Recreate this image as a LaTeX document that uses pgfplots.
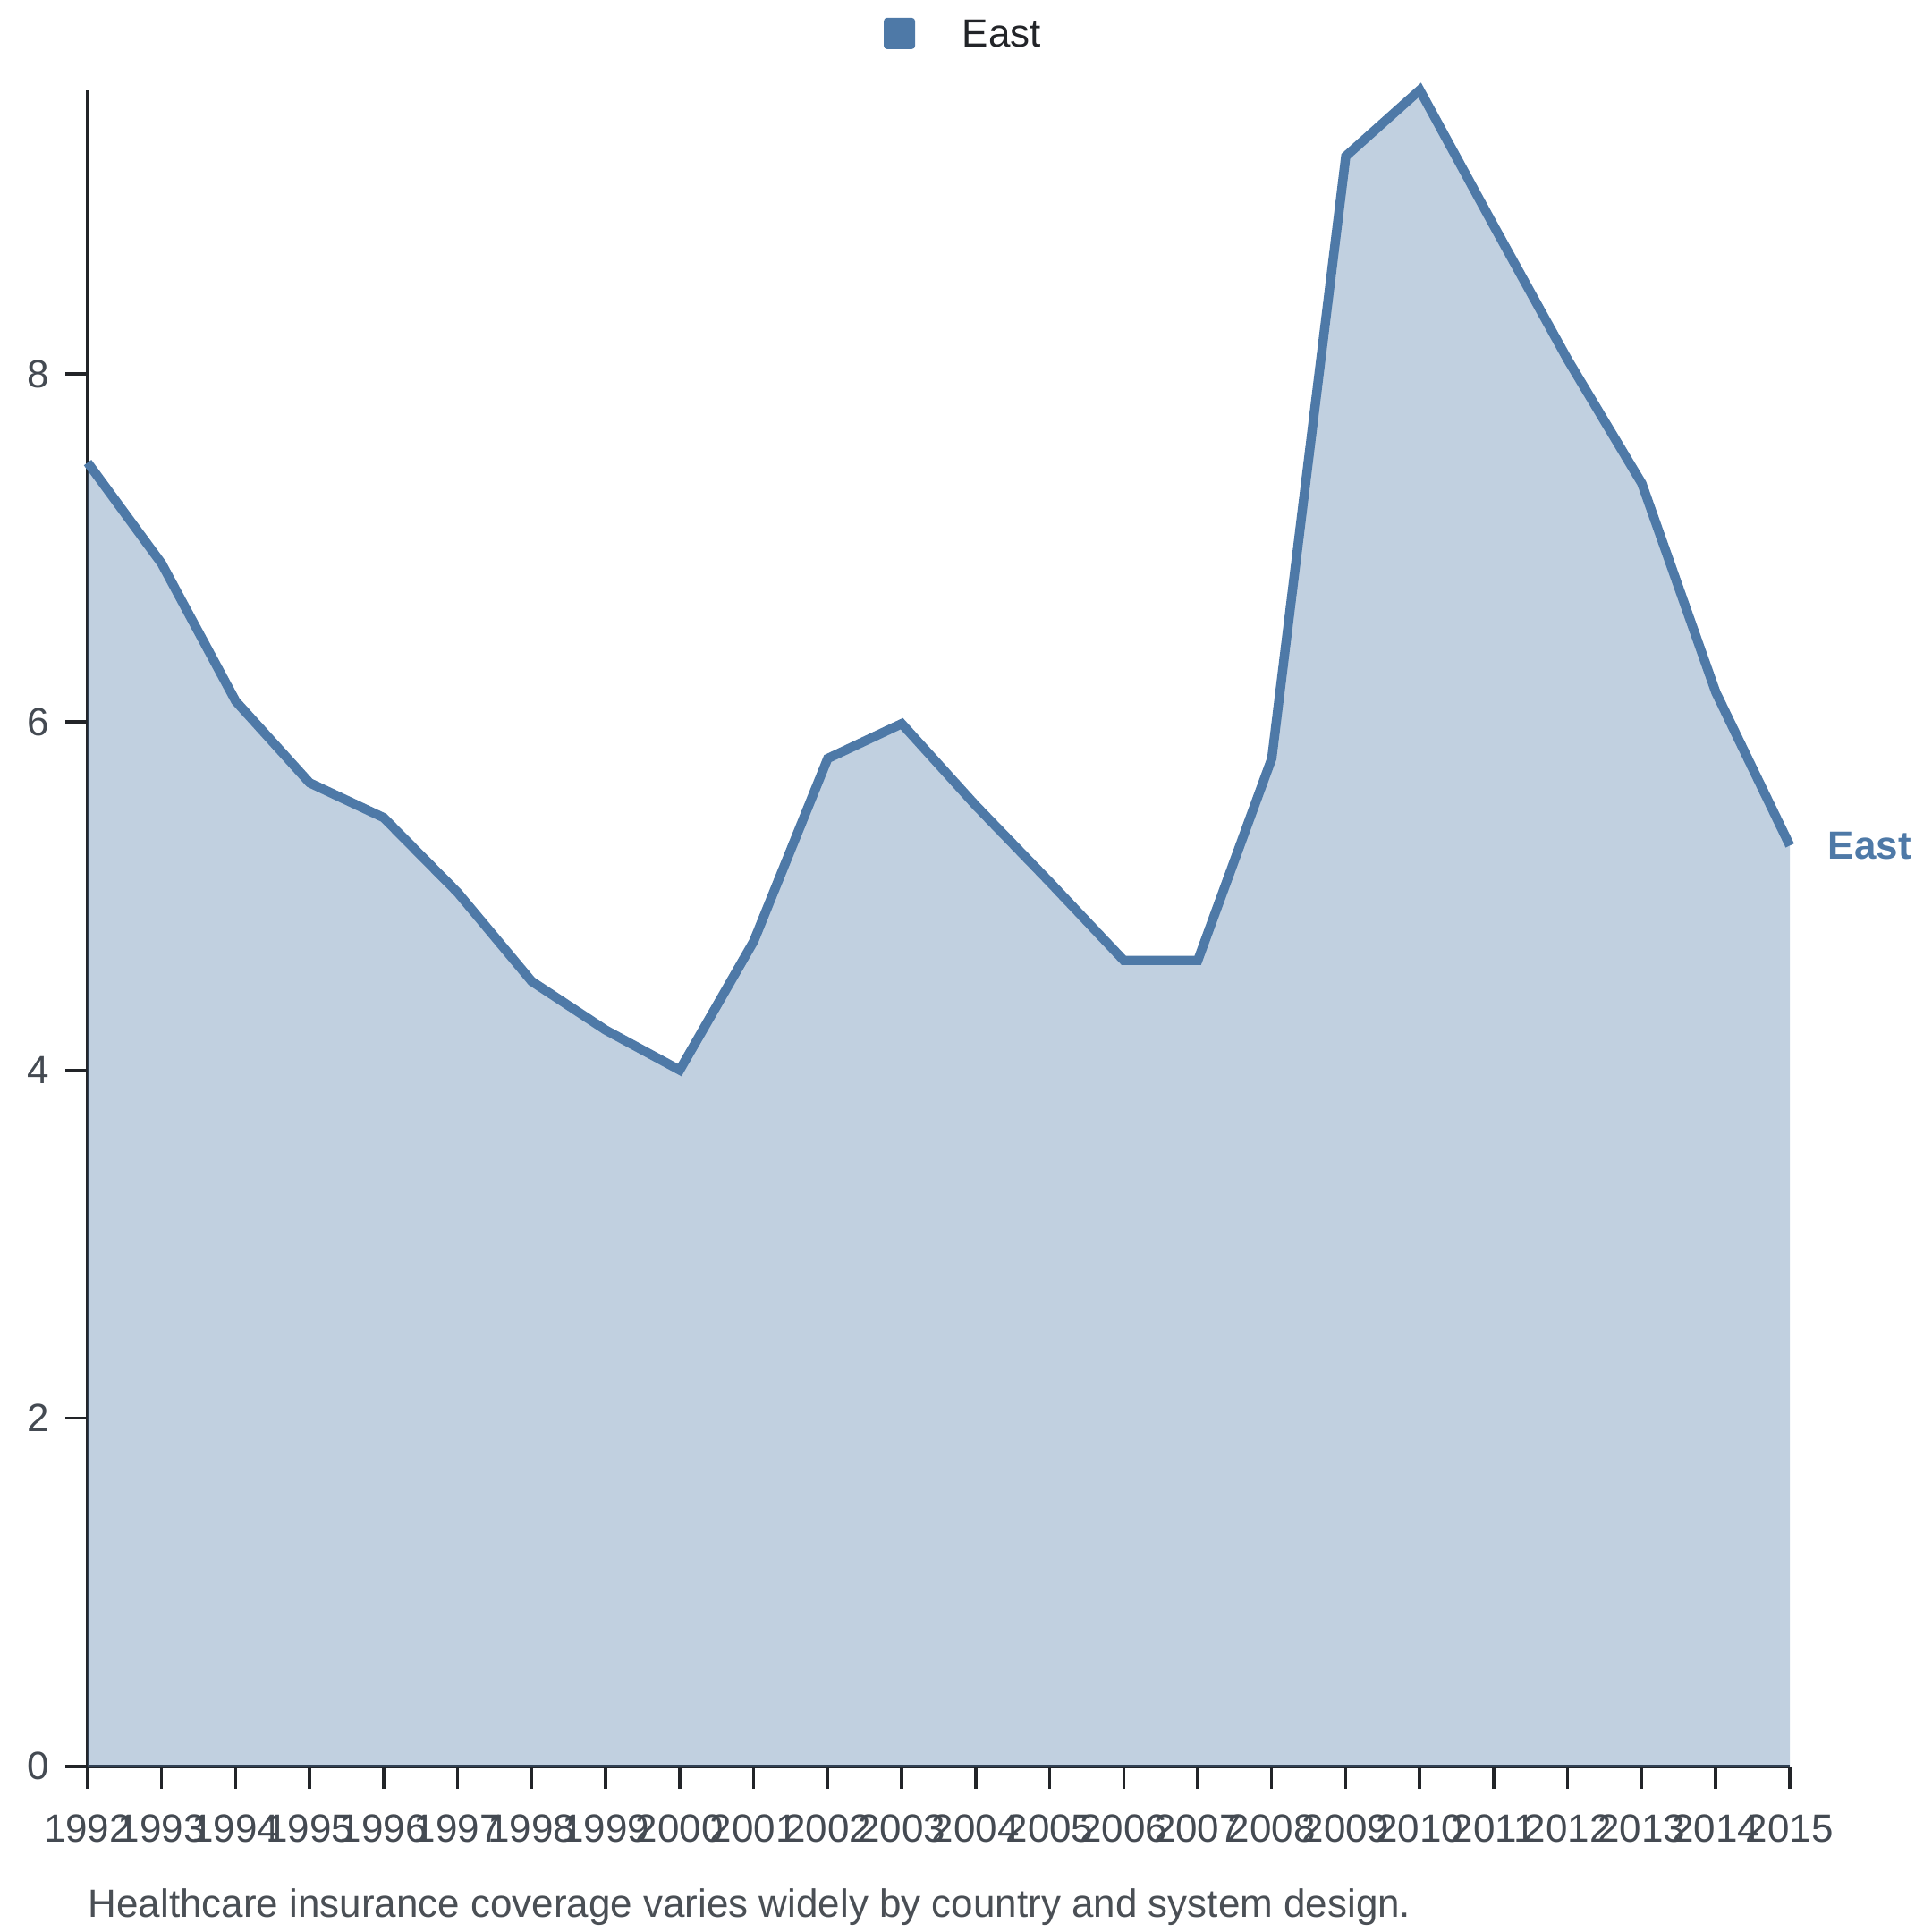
\documentclass[border=0pt]{standalone}
\usepackage{fontspec}
\setmainfont{Liberation Sans}
\usepackage{pgfplots}
\pgfplotsset{compat=1.18}
\definecolor{eastc}{HTML}{4E79A7}
\definecolor{axc}{HTML}{222428}
\definecolor{tickc}{HTML}{444A52}
\definecolor{capc}{HTML}{4A4F55}
\begin{document}
\begin{tikzpicture}
\path[use as bounding box] (-25.4pt,-48pt) rectangle (534.6pt,512pt);
\begin{axis}[
  at={(0,0)}, anchor=south west,
  width=493.4pt, height=485.9pt, scale only axis,
  xmin=1992, xmax=2015, ymin=0, ymax=9.63,
  axis x line*=bottom, axis y line*=left,
  axis line style={color=axc, line width=0.9pt},
  xtick={1992,...,2015}, ytick={0,2,4,6,8},
  tick align=outside, major tick length=6.4pt,
  tick style={color=axc, line width=0.9pt},
  every tick label/.append style={font=\fontsize{11.4}{13}\selectfont, text=tickc},
  /pgf/number format/assume math mode=true,
  x tick label style={/pgf/number format/1000 sep={}, inner sep=0pt, anchor=north, yshift=-7.4pt},
  y tick label style={inner sep=0pt, anchor=east, xshift=-4.5pt},
  clip=false,
]
\addplot[draw=none, fill=eastc, fill opacity=0.35] coordinates {
(1992,7.49) (1993,6.91) (1994,6.12) (1995,5.65) (1996,5.45) (1997,5.02) (1998,4.51) (1999,4.23) (2000,4.00) (2001,4.74) (2002,5.79) (2003,5.99) (2004,5.52) (2005,5.08) (2006,4.63) (2007,4.63) (2008,5.79) (2009,9.25) (2010,9.63) (2011,8.85) (2012,8.08) (2013,7.37) (2014,6.17) (2015,5.29)
} \closedcycle;
\addplot[color=eastc, line width=2.7pt, mark=none] coordinates {
(1992,7.49) (1993,6.91) (1994,6.12) (1995,5.65) (1996,5.45) (1997,5.02) (1998,4.51) (1999,4.23) (2000,4.00) (2001,4.74) (2002,5.79) (2003,5.99) (2004,5.52) (2005,5.08) (2006,4.63) (2007,4.63) (2008,5.79) (2009,9.25) (2010,9.63) (2011,8.85) (2012,8.08) (2013,7.37) (2014,6.17) (2015,5.29)
};
\node[anchor=west, inner sep=0pt, xshift=10.9pt, text=eastc, font=\fontsize{11.4}{13}\selectfont\bfseries] at (axis cs:2015,5.29) {East};
\end{axis}
\fill[eastc, rounded corners=1pt] (230.75pt,497.75pt) rectangle (239.85pt,506.85pt);
\node[anchor=west, inner sep=0pt, font=\fontsize{11.4}{13}\selectfont, text=axc] at (253.3pt,502.3pt) {East};
\node[anchor=base west, inner sep=0pt, font=\fontsize{11.4}{13}\selectfont, text=capc] at (0pt,-43.6pt) {Healthcare insurance coverage varies widely by country and system design.};
\end{tikzpicture}
\end{document}
